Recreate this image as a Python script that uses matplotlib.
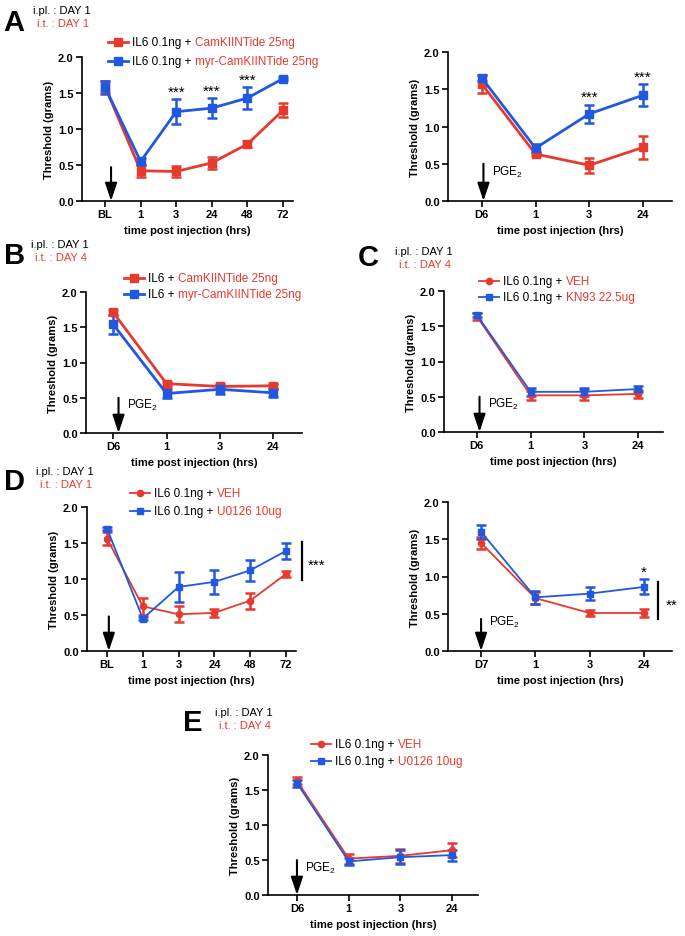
import matplotlib
matplotlib.use('Agg')
import matplotlib.pyplot as plt
from matplotlib.lines import Line2D

plt.rcParams['font.family'] = ['Liberation Sans', 'DejaVu Sans']
plt.rcParams['mathtext.fontset'] = 'custom'
plt.rcParams['mathtext.rm'] = 'Liberation Sans'
plt.rcParams['mathtext.it'] = 'Liberation Sans:italic'

RED = '#E8392E'
BLUE = '#2158E0'
W, H = 685, 937

# ---- data (threshold in grams, mean and s.e.m.) ----
# A left: i.pl. day 1 / i.t. day 1
a1_ticks = ['BL', '1', '3', '24', '48', '72']
a1_red = [1.59, 0.42, 0.41, 0.53, 0.79, 1.26]
a1_red_err = [0.07, 0.08, 0.08, 0.08, 0.04, 0.10]
a1_blue = [1.58, 0.55, 1.24, 1.29, 1.43, 1.70]
a1_blue_err = [0.09, 0.05, 0.17, 0.14, 0.15, 0.02]
a1_stars = ['', '', '***', '***', '***', '']

# A right: PGE2 on day 6
a2_ticks = ['D6', '1', '3', '24']
a2_red = [1.57, 0.63, 0.48, 0.72]
a2_red_err = [0.12, 0.03, 0.10, 0.15]
a2_blue = [1.65, 0.71, 1.17, 1.42]
a2_blue_err = [0.04, 0.06, 0.12, 0.15]
a2_stars = ['', '', '***', '***']

# B
b_ticks = ['D6', '1', '3', '24']
b_red = [1.71, 0.70, 0.66, 0.67]
b_red_err = [0.03, 0.03, 0.03, 0.03]
b_blue = [1.54, 0.56, 0.62, 0.57]
b_blue_err = [0.13, 0.06, 0.06, 0.06]

# C
c_ticks = ['D6', '1', '3', '24']
c_red = [1.64, 0.52, 0.52, 0.54]
c_red_err = [0.05, 0.06, 0.07, 0.06]
c_blue = [1.66, 0.57, 0.57, 0.61]
c_blue_err = [0.03, 0.06, 0.06, 0.04]

# D left
d1_ticks = ['BL', '1', '3', '24', '48', '72']
d1_red = [1.56, 0.62, 0.51, 0.53, 0.70, 1.07]
d1_red_err = [0.09, 0.12, 0.11, 0.06, 0.11, 0.04]
d1_blue = [1.70, 0.45, 0.89, 0.96, 1.12, 1.39]
d1_blue_err = [0.02, 0.02, 0.21, 0.17, 0.15, 0.11]

# D right
d2_ticks = ['D7', '1', '3', '24']
d2_red = [1.45, 0.71, 0.51, 0.51]
d2_red_err = [0.08, 0.08, 0.04, 0.06]
d2_blue = [1.60, 0.72, 0.77, 0.86]
d2_blue_err = [0.09, 0.09, 0.09, 0.10]
d2_stars = ['', '', '', '*']

# E
e_ticks = ['D6', '1', '3', '24']
e_red = [1.63, 0.52, 0.56, 0.64]
e_red_err = [0.05, 0.07, 0.10, 0.10]
e_blue = [1.60, 0.48, 0.54, 0.57]
e_blue_err = [0.05, 0.05, 0.10, 0.08]

fig = plt.figure(figsize=(W / 100, H / 100), dpi=100)
renderer = fig.canvas.get_renderer()


def fx(x):
    return x / W


def fy(y):
    return 1 - y / H


def panel(box, xlim, ticks, red, red_err, blue, blue_err, thick, red_mk,
          arrow_dx, arrow_top, pge=True, stars=None):
    x0, x1, ytop, ybot = box
    ax = fig.add_axes([fx(x0), fy(ybot), (x1 - x0) / W, (ybot - ytop) / H])
    xs = list(range(len(ticks)))
    lw = 2.0 if thick else 1.3
    ms = 6 if thick else 4.5
    for vals, errs, col, mk in [(red, red_err, RED, red_mk),
                                (blue, blue_err, BLUE, 's')]:
        ax.errorbar(xs, vals, yerr=errs, color=col, marker=mk, ms=ms, lw=lw,
                    elinewidth=1.8, capsize=3.5, capthick=1.8, clip_on=False,
                    zorder=3)
    ax.set_xlim(*xlim)
    ax.set_ylim(0, 2.0)
    ax.set_yticks([0, 0.5, 1.0, 1.5, 2.0])
    ax.set_yticklabels(['0.0', '0.5', '1.0', '1.5', '2.0'])
    ax.set_xticks(xs)
    ax.set_xticklabels(ticks)
    for s in ['top', 'right']:
        ax.spines[s].set_visible(False)
    for s in ['left', 'bottom']:
        ax.spines[s].set_linewidth(1.2)
    ax.tick_params(direction='out', length=4, width=1.2, labelsize=8, pad=2)
    for lab in ax.get_xticklabels() + ax.get_yticklabels():
        lab.set_fontweight('bold')
    ax.set_ylabel('Threshold (grams)', fontsize=8, fontweight='bold', labelpad=3)
    ax.set_xlabel('time post injection (hrs)', fontsize=8, fontweight='bold',
                  labelpad=4)
    ax.annotate('', xy=(arrow_dx, 0.0), xytext=(arrow_dx, arrow_top),
                arrowprops=dict(arrowstyle='-|>,head_width=0.3,head_length=0.9',
                                color='k', lw=1.5, shrinkA=0, shrinkB=0,
                                mutation_scale=12))
    if pge:
        ax.text(arrow_dx + 0.15, 0.40, 'PGE$_2$', fontsize=8.5, va='center')
    if stars:
        for i, st in enumerate(stars):
            if st:
                ax.text(i, blue[i] + blue_err[i] + 0.05, st, ha='center',
                        va='baseline', fontsize=11)
    return ax


def legend_row(x, y, black, red_txt, col, mk, thick):
    lw = 2.0 if thick else 1.3
    fig.add_artist(Line2D([fx(x), fx(x + 20)], [fy(y), fy(y)], color=col, lw=lw))
    fig.add_artist(Line2D([fx(x + 10)], [fy(y)], color=col, marker=mk,
                          ms=6 if thick else 4.5, lw=0))
    t = fig.text(fx(x + 24), fy(y), black, fontsize=8.5, va='center')
    bb = t.get_window_extent(renderer)
    fig.text(fx(bb.x1 + 3.5), fy(y), red_txt, fontsize=8.5, va='center',
             color=RED)


def header(lx, ly, letter, tx, ty, it_day):
    fig.text(fx(lx), fy(ly), letter, fontsize=21, fontweight='bold', va='top')
    fig.text(fx(tx), fy(ty), 'i.pl. : DAY 1', fontsize=8, va='center')
    fig.text(fx(tx + 4), fy(ty + 13), 'i.t. : ' + it_day, fontsize=8,
             va='center', color=RED)


def sig_bar(ax, x, y0, y1, label):
    ax.plot([x, x], [y0, y1], color='k', lw=1.6, clip_on=False)
    ax.text(x + 0.15, (y0 + y1) / 2 - 0.11, label, fontsize=11, va='baseline')


# ---- A ----
header(3, 9, 'A', 33, 11, 'DAY 1')
panel((82, 293, 58, 202), (-0.646, 5.28), a1_ticks, a1_red, a1_red_err,
      a1_blue, a1_blue_err, True, 's', 0.17, 0.47, pge=False, stars=a1_stars)
legend_row(108, 43, 'IL6 0.1ng +', 'CamKIINTide 25ng', RED, 's', True)
legend_row(108, 62, 'IL6 0.1ng +', 'myr-CamKIINTide 25ng', BLUE, 's', True)

panel((448, 672, 53, 202), (-0.63, 3.54), a2_ticks, a2_red, a2_red_err,
      a2_blue, a2_blue_err, True, 's', 0.03, 0.5, stars=a2_stars)

# ---- B ----
header(4, 242, 'B', 31, 245, 'DAY 4')
panel((86, 302, 293, 434), (-0.51, 3.54), b_ticks, b_red, b_red_err,
      b_blue, b_blue_err, True, 's', 0.1, 0.5)
legend_row(124, 279, 'IL6 +', 'CamKIINTide 25ng', RED, 's', True)
legend_row(124, 295, 'IL6 +', 'myr-CamKIINTide 25ng', BLUE, 's', True)

# ---- C ----
header(358, 244, 'C', 395, 252, 'DAY 4')
panel((444, 663, 292, 433), (-0.61, 3.46), c_ticks, c_red, c_red_err,
      c_blue, c_blue_err, False, 'o', 0.05, 0.5)
legend_row(479, 282, 'IL6 0.1ng +', 'VEH', RED, 'o', False)
legend_row(479, 298, 'IL6 0.1ng +', 'KN93 22.5ug', BLUE, 's', False)

# ---- D ----
header(4, 468, 'D', 36, 472, 'DAY 1')
ax_d1 = panel((87, 296, 508, 652), (-0.56, 5.28), d1_ticks, d1_red, d1_red_err,
              d1_blue, d1_blue_err, False, 'o', 0.05, 0.48, pge=False)
sig_bar(ax_d1, 5.45, 0.99, 1.52, '***')
legend_row(130, 494, 'IL6 0.1ng +', 'VEH', RED, 'o', False)
legend_row(130, 512, 'IL6 0.1ng +', 'U0126 10ug', BLUE, 's', False)

ax_d2 = panel((448, 672, 503, 652), (-0.61, 3.52), d2_ticks, d2_red, d2_red_err,
              d2_blue, d2_blue_err, False, 'o', 0.0, 0.43, stars=d2_stars)
sig_bar(ax_d2, 3.26, 0.43, 0.93, '**')

# ---- E ----
header(183, 709, 'E', 215, 713, 'DAY 4')
panel((268, 478, 756, 896), (-0.56, 3.5), e_ticks, e_red, e_red_err,
      e_blue, e_blue_err, False, 'o', 0.0, 0.5)
legend_row(311, 745, 'IL6 0.1ng +', 'VEH', RED, 'o', False)
legend_row(311, 762, 'IL6 0.1ng +', 'U0126 10ug', BLUE, 's', False)

fig.savefig('out.png', dpi=100)
